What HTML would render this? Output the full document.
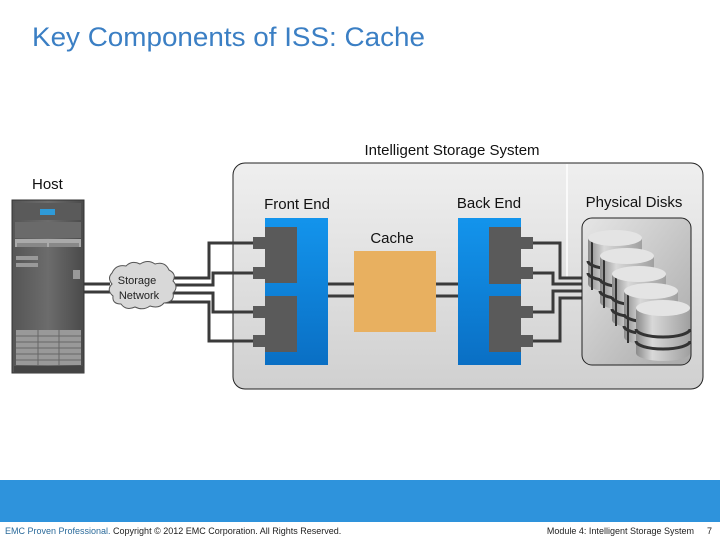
<!DOCTYPE html>
<html><head><meta charset="utf-8"><style>
html,body{margin:0;padding:0;background:#fff;width:720px;height:540px;overflow:hidden}
svg{display:block}
text{font-family:"Liberation Sans",sans-serif}
</style></head><body>
<svg width="720" height="540" viewBox="0 0 720 540" xmlns="http://www.w3.org/2000/svg">
<defs>
<linearGradient id="bg" x1="0" y1="0" x2="0" y2="1"><stop offset="0" stop-color="#efefef"/><stop offset="1" stop-color="#d0d0d0"/></linearGradient>
<linearGradient id="dk" x1="0" y1="0" x2="1" y2="1"><stop offset="0" stop-color="#e6e6e6"/><stop offset="1" stop-color="#a8a8a8"/></linearGradient>
<linearGradient id="bl" x1="0" y1="0" x2="0" y2="1"><stop offset="0" stop-color="#1394ec"/><stop offset="1" stop-color="#0a6fc4"/></linearGradient>
<linearGradient id="cy" x1="0" y1="0" x2="1" y2="0"><stop offset="0" stop-color="#8a8a8a"/><stop offset="0.3" stop-color="#d8d8d8"/><stop offset="1" stop-color="#a0a0a0"/></linearGradient>
<linearGradient id="hs" x1="0" y1="0" x2="1" y2="0"><stop offset="0" stop-color="#555"/><stop offset="0.5" stop-color="#6c6c6c"/><stop offset="1" stop-color="#4a4a4a"/></linearGradient>
</defs>
<text x="32" y="46" font-size="27" fill="#3b7fc4" textLength="393" lengthAdjust="spacingAndGlyphs">Key Components of ISS: Cache</text>
<text x="452" y="155" font-size="15" text-anchor="middle" fill="#111">Intelligent Storage System</text>
<text x="32" y="189" font-size="15" fill="#111">Host</text>
<rect x="233" y="163" width="470" height="226" rx="12" fill="url(#bg)" stroke="#222" stroke-width="1"/>
<line x1="567" y1="164" x2="567" y2="278" stroke="#fff" stroke-width="1.5"/>
<text x="297" y="209" font-size="15" text-anchor="middle" fill="#111">Front End</text>
<text x="489" y="208" font-size="15" text-anchor="middle" fill="#111">Back End</text>
<text x="634" y="207" font-size="15" text-anchor="middle" fill="#111">Physical Disks</text>
<text x="392" y="243" font-size="15" text-anchor="middle" fill="#111">Cache</text>
<!-- host -->
<rect x="12" y="200" width="72" height="173" fill="url(#hs)" stroke="#333"/>
<rect x="15" y="203" width="66" height="17" fill="#5a5a5a"/>
<rect x="40" y="209" width="15" height="6" fill="#2e9ad8"/>
<rect x="15" y="222" width="66" height="16" fill="#6a6a6a"/>
<rect x="15" y="239" width="66" height="8" fill="#aaa"/>
<rect x="17" y="243" width="30" height="4" fill="#888"/><rect x="49" y="243" width="30" height="4" fill="#888"/>
<rect x="16" y="256" width="22" height="4" fill="#999"/><rect x="16" y="263" width="22" height="4" fill="#999"/>
<rect x="73" y="270" width="7" height="9" fill="#999"/>
<rect x="16" y="330" width="65" height="35" fill="#999"/>
<g stroke="#666" stroke-width="1"><line x1="16" y1="336" x2="81" y2="336"/><line x1="16" y1="342" x2="81" y2="342"/><line x1="16" y1="348" x2="81" y2="348"/><line x1="16" y1="354" x2="81" y2="354"/><line x1="16" y1="360" x2="81" y2="360"/><line x1="38" y1="330" x2="38" y2="365"/><line x1="59" y1="330" x2="59" y2="365"/></g>
<rect x="14" y="366" width="70" height="7" fill="#444"/>
<!-- lines -->
<g stroke="#3a3a3a" stroke-width="3" fill="none">
<path d="M84 284 H110 M84 292 H110"/>
<path d="M165 278 H209 V243 H254"/>
<path d="M168 285 H213 V273 H254"/>
<path d="M168 293 H213 V312 H254"/>
<path d="M165 302 H209 V341 H254"/>
<path d="M328 284 H354 M328 296 H354 M436 284 H458 M436 296 H458"/>
<path d="M532 243 H560 V278 H583"/>
<path d="M532 273 H553 V284 H583"/>
<path d="M532 312 H553 V291 H583"/>
<path d="M532 341 H560 V298 H583"/>
</g>
<!-- cloud -->
<path d="M112 273 q4-9 14-7 q6-6 14-2 q8-5 15 0 q10-3 14 6 q8 4 4 11 q6 6 0 12 q2 9-9 10 q-5 6-14 3 q-7 5-15 1 q-9 4-14-3 q-9 0-8-8 q-7-6-1-12 q-5-6 0-11z" fill="#d8d8d8" stroke="#555"/>
<text x="137" y="284" font-size="11" text-anchor="middle" fill="#222">Storage</text>
<text x="139" y="299" font-size="11" text-anchor="middle" fill="#222">Network</text>
<!-- front end -->
<rect x="265" y="218" width="63" height="147" fill="url(#bl)"/>
<rect x="265" y="227" width="32" height="56" fill="#5a5a5a"/>
<rect x="265" y="296" width="32" height="56" fill="#5a5a5a"/>
<g fill="#5a5a5a"><rect x="253" y="237" width="12" height="12"/><rect x="253" y="267" width="12" height="12"/><rect x="253" y="306" width="12" height="12"/><rect x="253" y="335" width="12" height="12"/></g>
<!-- cache -->
<rect x="354" y="251" width="82" height="81" fill="#e8b060"/>
<!-- back end -->
<rect x="458" y="218" width="63" height="147" fill="url(#bl)"/>
<rect x="489" y="227" width="32" height="57" fill="#5a5a5a"/>
<rect x="489" y="296" width="32" height="56" fill="#5a5a5a"/>
<g fill="#5a5a5a"><rect x="521" y="237" width="12" height="12"/><rect x="521" y="267" width="12" height="12"/><rect x="521" y="306" width="12" height="12"/><rect x="521" y="335" width="12" height="12"/></g>
<!-- disks -->
<rect x="582" y="218" width="109" height="147" rx="10" fill="url(#dk)" stroke="#222"/>
<g>
<path d="M588 238 v46 a27 8 0 0 0 54 0 v-46z" fill="url(#cy)"/><path d="M588 261 a27 8 0 0 0 54 0 M588 273 a27 8 0 0 0 54 0" stroke="#333" stroke-width="3" fill="none"/><line x1="592" y1="240" x2="592" y2="290" stroke="#333" stroke-width="2"/><ellipse cx="615" cy="238" rx="27" ry="8" fill="#e4e4e4"/>
<path d="M600 256 v46 a27 8 0 0 0 54 0 v-46z" fill="url(#cy)"/><path d="M600 279 a27 8 0 0 0 54 0 M600 291 a27 8 0 0 0 54 0" stroke="#333" stroke-width="3" fill="none"/><line x1="604" y1="258" x2="604" y2="308" stroke="#333" stroke-width="2"/><ellipse cx="627" cy="256" rx="27" ry="8" fill="#e4e4e4"/>
<path d="M612 274 v46 a27 8 0 0 0 54 0 v-46z" fill="url(#cy)"/><path d="M612 297 a27 8 0 0 0 54 0 M612 309 a27 8 0 0 0 54 0" stroke="#333" stroke-width="3" fill="none"/><line x1="616" y1="276" x2="616" y2="326" stroke="#333" stroke-width="2"/><ellipse cx="639" cy="274" rx="27" ry="8" fill="#e4e4e4"/>
<path d="M624 291 v46 a27 8 0 0 0 54 0 v-46z" fill="url(#cy)"/><path d="M624 314 a27 8 0 0 0 54 0 M624 326 a27 8 0 0 0 54 0" stroke="#333" stroke-width="3" fill="none"/><line x1="628" y1="293" x2="628" y2="343" stroke="#333" stroke-width="2"/><ellipse cx="651" cy="291" rx="27" ry="8" fill="#e4e4e4"/>
<path d="M636 308 v45 a27 8 0 0 0 54 0 v-45z" fill="url(#cy)"/><path d="M636 329 a27 8 0 0 0 54 0 M636 341 a27 8 0 0 0 54 0" stroke="#333" stroke-width="3" fill="none"/><ellipse cx="663" cy="308" rx="27" ry="8" fill="#e4e4e4"/>
</g>
<!-- footer -->
<rect x="0" y="480" width="720" height="42" fill="#2e93dc"/>
<text x="5" y="534" font-size="9" fill="#222"><tspan fill="#2a6a9a">EMC Proven Professional.</tspan> Copyright © 2012 EMC Corporation. All Rights Reserved.</text>
<text x="694" y="534" font-size="9" text-anchor="end" fill="#222">Module 4: Intelligent Storage System</text>
<text x="712" y="534" font-size="9" text-anchor="end" fill="#222">7</text>
</svg>
</body></html>
